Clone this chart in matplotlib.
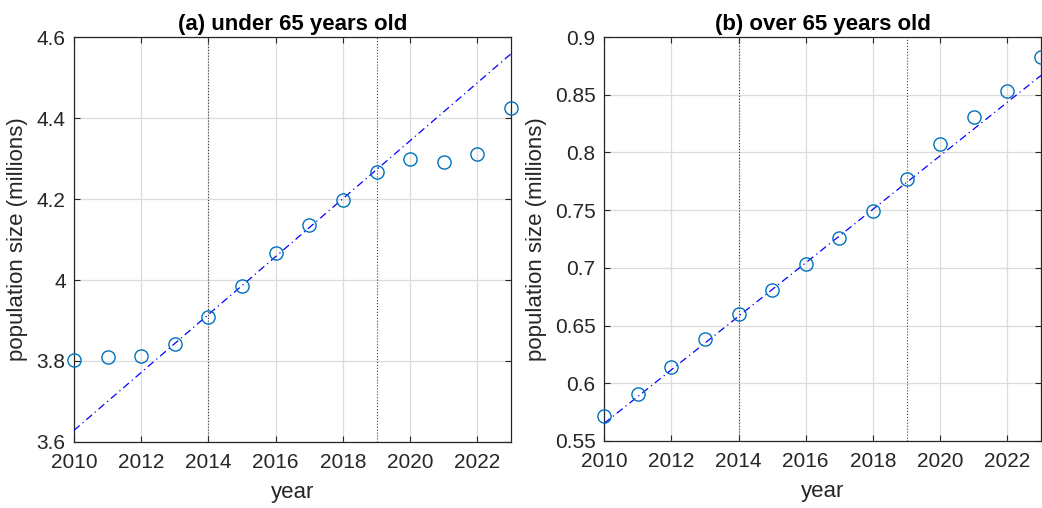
import numpy as np
import matplotlib
matplotlib.use('Agg')
import matplotlib.pyplot as plt
from matplotlib.ticker import FormatStrFormatter

plt.rcParams['font.family'] = ['Liberation Sans', 'DejaVu Sans']

# data
years = np.arange(2010, 2024)
under65 = [3.803, 3.811, 3.813, 3.843, 3.908, 3.985, 4.067, 4.137,
           4.198, 4.267, 4.300, 4.291, 4.311, 4.426]
over65 = [0.572, 0.591, 0.614, 0.638, 0.660, 0.681, 0.703, 0.726,
          0.749, 0.777, 0.807, 0.831, 0.853, 0.883]
fit_start, fit_end = 2014, 2019
titles = ['(a) under 65 years old', '(b) over 65 years old']
ylims = [(3.6, 4.6), (0.55, 0.9)]
yticks = [[3.6, 3.8, 4.0, 4.2, 4.4, 4.6],
          [0.55, 0.6, 0.65, 0.7, 0.75, 0.8, 0.85, 0.9]]

fig = plt.figure(figsize=(10.42, 5.08), dpi=100)
ax1 = fig.add_axes([0.071, 0.130, 0.4194, 0.797])
ax2 = fig.add_axes([0.5797, 0.132, 0.4194, 0.795])

txt = '#262626'
for ax, vals, title, yl, yt in zip([ax1, ax2], [under65, over65], titles, ylims, yticks):
    vals = np.array(vals)
    sel = (years >= fit_start) & (years <= fit_end)
    p = np.polyfit(years[sel], vals[sel], 1)
    xx = np.array([2010, 2023])
    ax.plot(xx, np.polyval(p, xx), color='#0000ff', linestyle=(0, (6, 3, 1, 3)),
            linewidth=0.9, zorder=3)
    ax.plot(years, vals, 'o', mfc='none', mec='#0072bd', ms=9.5, mew=1.0,
            clip_on=False, zorder=4)
    for v in [fit_start, fit_end]:
        ax.axvline(v, color='#404040', linestyle=':', linewidth=0.8, zorder=2)

    ax.set_xlim(2010, 2023)
    ax.set_ylim(*yl)
    ax.set_xticks(np.arange(2010, 2023, 2))
    ax.set_yticks(yt)
    ax.yaxis.set_major_formatter(FormatStrFormatter('%g'))
    ax.grid(True, color='#dcdcdc', linewidth=0.9, zorder=0)
    ax.set_axisbelow(True)
    ax.tick_params(direction='in', length=4, labelsize=15, colors=txt,
                   top=True, right=True)
    ax.tick_params(axis='x', pad=8)
    ax.tick_params(axis='y', pad=6)
    for s in ax.spines.values():
        s.set_color(txt)
        s.set_linewidth(0.9)
    ax.set_title(title, fontsize=16, fontweight='bold', color='black', pad=5)
    ax.set_xlabel('year', fontsize=16, color=txt, labelpad=7)
    ax.set_ylabel('population size (millions)', fontsize=16, color=txt, labelpad=6)

fig.savefig('out.png', dpi=100)
